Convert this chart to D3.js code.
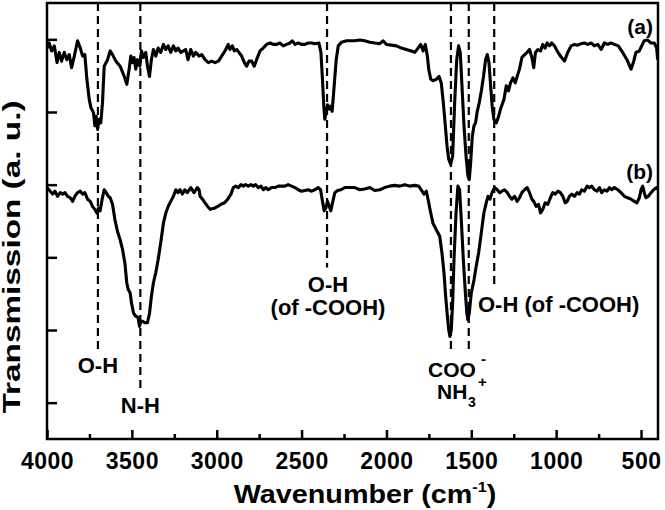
<!DOCTYPE html>
<html>
<head>
<meta charset="utf-8">
<script src="https://cdn.jsdelivr.net/npm/d3@7"></script>
<style>
  body { margin: 0; background: #fff; }
  text { font-family: "Liberation Sans", Arial, sans-serif; font-weight: bold; fill: #000; }
</style>
</head>
<body>
<div id="grafica"></div>
<script>
  // espectro (a): [numero de onda, transmision]
  const serieA = [
    [4000, 4.88], [3987, 4.95], [3973, 4.84], [3957, 4.91], [3941, 4.68], [3928, 4.82], [3914, 4.70], [3898, 4.82],
    [3883, 4.72], [3869, 4.79], [3855, 4.61], [3839, 4.77], [3820, 4.98], [3804, 4.88], [3790, 4.77], [3777, 4.79],
    [3765, 4.45], [3751, 4.17], [3741, 4.06], [3726, 3.99], [3718, 3.81], [3710, 3.94], [3702, 3.76], [3692, 3.90],
    [3683, 3.85], [3673, 4.13], [3663, 4.63], [3643, 4.72], [3628, 4.84], [3614, 4.79], [3594, 4.70], [3569, 4.63],
    [3545, 4.49], [3530, 4.38], [3516, 4.59], [3506, 4.77], [3496, 4.68], [3487, 4.75], [3477, 4.59], [3467, 4.72],
    [3453, 4.63], [3443, 4.84], [3432, 4.75], [3418, 4.82], [3408, 4.63], [3396, 4.49], [3385, 4.72], [3373, 4.86],
    [3359, 4.77], [3345, 4.88], [3330, 4.82], [3314, 4.93], [3300, 4.86], [3286, 4.91], [3271, 4.82], [3255, 4.91],
    [3241, 4.84], [3228, 4.88], [3212, 4.82], [3196, 4.84], [3183, 4.86], [3169, 4.72], [3153, 4.86], [3137, 4.77],
    [3124, 4.82], [3104, 4.77], [3088, 4.79], [3069, 4.72], [3049, 4.68], [3030, 4.70], [3010, 4.68], [2990, 4.70],
    [2971, 4.77], [2951, 4.84], [2932, 4.93], [2922, 4.86], [2908, 4.91], [2896, 4.84], [2882, 4.86], [2869, 4.82],
    [2853, 4.77], [2837, 4.68], [2824, 4.63], [2810, 4.70], [2794, 4.70], [2779, 4.63], [2765, 4.72], [2745, 4.84],
    [2726, 4.88], [2706, 4.93], [2686, 4.95], [2667, 4.93], [2647, 4.93], [2628, 4.95], [2608, 4.91], [2588, 4.93],
    [2569, 4.95], [2555, 4.98], [2539, 4.93], [2520, 4.95], [2500, 4.93], [2480, 4.93], [2461, 4.95], [2441, 4.95],
    [2422, 4.94], [2398, 4.95], [2386, 4.82], [2377, 4.45], [2369, 4.08], [2363, 3.90], [2355, 4.01], [2347, 4.10],
    [2337, 4.04], [2328, 4.08], [2320, 4.01], [2308, 4.36], [2296, 4.72], [2284, 4.91], [2265, 4.96], [2235, 4.98],
    [2210, 4.98], [2186, 4.98], [2157, 4.99], [2128, 4.98], [2098, 4.96], [2069, 4.95], [2039, 4.94], [2020, 4.98],
    [2000, 4.93], [1971, 4.92], [1941, 4.91], [1912, 4.88], [1883, 4.86], [1853, 4.84], [1833, 4.82], [1814, 4.88],
    [1798, 4.93], [1784, 4.84], [1771, 4.93], [1759, 4.77], [1751, 4.59], [1739, 4.45], [1726, 4.43], [1706, 4.45],
    [1690, 4.49], [1677, 4.40], [1665, 4.13], [1653, 3.81], [1643, 3.53], [1633, 3.35], [1622, 3.28], [1610, 3.39],
    [1598, 4.13], [1586, 4.72], [1575, 4.91], [1565, 4.82], [1555, 4.36], [1543, 3.81], [1531, 3.39], [1520, 3.12],
    [1512, 3.07], [1504, 3.30], [1494, 3.67], [1484, 3.81], [1475, 3.85], [1465, 4.01], [1453, 4.13], [1441, 4.29],
    [1428, 4.49], [1416, 4.72], [1406, 4.79], [1396, 4.68], [1386, 4.36], [1377, 4.08], [1367, 3.90], [1353, 3.85],
    [1339, 3.94], [1328, 4.04], [1308, 4.17], [1294, 4.36], [1281, 4.29], [1269, 4.40], [1255, 4.47], [1241, 4.40],
    [1230, 4.49], [1216, 4.59], [1202, 4.75], [1186, 4.79], [1171, 4.82], [1157, 4.86], [1143, 4.75], [1132, 4.61],
    [1122, 4.82], [1108, 4.86], [1092, 4.84], [1079, 4.93], [1065, 4.88], [1053, 4.95], [1039, 4.91], [1026, 4.95],
    [1010, 4.91], [994, 4.84], [975, 4.77], [951, 4.70], [932, 4.82], [912, 4.91], [892, 4.93], [873, 4.92],
    [853, 4.94], [834, 4.95], [814, 4.93], [794, 4.95], [775, 4.91], [755, 4.93], [735, 4.86], [716, 4.95],
    [696, 4.93], [677, 4.95], [657, 4.93], [634, 4.91], [608, 4.82], [583, 4.72], [559, 4.59], [543, 4.70],
    [530, 4.82], [510, 4.84], [496, 4.91], [481, 4.98], [461, 4.99], [441, 4.95], [422, 4.95], [408, 4.88],
    [402, 4.72]
  ];

  // espectro (b)
  const serieB = [
    [4000, 2.96], [3981, 2.91], [3967, 2.87], [3953, 2.91], [3938, 2.84], [3922, 2.89], [3908, 2.87], [3894, 2.89],
    [3879, 2.84], [3863, 2.82], [3849, 2.77], [3836, 2.84], [3820, 2.89], [3804, 2.91], [3790, 2.87], [3777, 2.89],
    [3761, 2.80], [3745, 2.77], [3732, 2.70], [3718, 2.66], [3706, 2.61], [3696, 2.68], [3687, 2.64], [3675, 2.80],
    [3663, 2.93], [3651, 2.89], [3639, 2.84], [3628, 2.82], [3614, 2.73], [3600, 2.52], [3585, 2.36], [3569, 2.24],
    [3555, 2.11], [3541, 1.92], [3530, 1.65], [3522, 1.56], [3510, 1.51], [3502, 1.37], [3490, 1.23], [3477, 1.19],
    [3463, 1.17], [3455, 1.05], [3447, 1.12], [3436, 1.12], [3424, 1.10], [3408, 1.10], [3396, 1.23], [3385, 1.46],
    [3373, 1.65], [3359, 1.79], [3345, 1.97], [3330, 2.20], [3314, 2.47], [3300, 2.61], [3286, 2.70], [3271, 2.77],
    [3255, 2.84], [3241, 2.93], [3228, 2.89], [3216, 2.93], [3202, 2.87], [3188, 2.93], [3173, 2.89], [3153, 2.96],
    [3134, 2.89], [3114, 2.96], [3104, 2.93], [3098, 2.84], [3084, 2.80], [3069, 2.75], [3053, 2.70], [3039, 2.66],
    [3026, 2.67], [3010, 2.68], [2994, 2.70], [2975, 2.73], [2955, 2.75], [2935, 2.80], [2916, 2.87], [2902, 2.96],
    [2888, 2.98], [2873, 2.96], [2857, 3.00], [2843, 2.98], [2830, 3.00], [2814, 2.98], [2798, 3.00], [2784, 2.98],
    [2771, 3.00], [2755, 2.96], [2739, 2.98], [2726, 2.93], [2712, 2.96], [2696, 2.93], [2677, 2.96], [2657, 2.96],
    [2637, 2.98], [2618, 2.98], [2598, 2.98], [2579, 3.00], [2559, 2.98], [2539, 2.96], [2520, 2.93], [2500, 2.91],
    [2480, 2.92], [2461, 2.93], [2441, 2.91], [2422, 2.93], [2402, 2.96], [2388, 2.93], [2379, 2.80], [2367, 2.64],
    [2357, 2.68], [2347, 2.77], [2337, 2.70], [2328, 2.64], [2316, 2.77], [2304, 2.89], [2288, 2.92], [2269, 2.93],
    [2245, 2.96], [2216, 2.96], [2186, 2.96], [2157, 2.93], [2128, 2.94], [2098, 2.96], [2069, 2.92], [2039, 2.93],
    [2010, 2.96], [1981, 2.98], [1951, 2.99], [1922, 2.98], [1892, 3.00], [1863, 2.98], [1833, 2.99], [1810, 2.98],
    [1790, 2.91], [1779, 2.87], [1765, 2.91], [1755, 2.80], [1739, 2.61], [1726, 2.47], [1706, 2.38], [1686, 2.29],
    [1673, 2.06], [1661, 1.79], [1651, 1.46], [1641, 1.19], [1633, 1.00], [1626, 0.91], [1618, 1.00], [1610, 1.37],
    [1602, 1.97], [1590, 2.61], [1579, 2.98], [1569, 2.93], [1559, 2.52], [1547, 1.97], [1535, 1.51], [1526, 1.23],
    [1520, 1.14], [1512, 1.23], [1500, 1.51], [1484, 1.69], [1471, 1.88], [1457, 2.06], [1441, 2.34], [1426, 2.61],
    [1412, 2.75], [1402, 2.84], [1390, 2.80], [1378, 2.89], [1363, 2.96], [1347, 2.93], [1333, 2.89], [1320, 2.91],
    [1304, 2.93], [1288, 2.89], [1275, 2.84], [1261, 2.80], [1245, 2.84], [1230, 2.77], [1216, 2.82], [1202, 2.89],
    [1186, 2.93], [1171, 2.96], [1157, 2.89], [1143, 2.80], [1132, 2.77], [1118, 2.70], [1104, 2.73], [1092, 2.61],
    [1079, 2.66], [1065, 2.75], [1049, 2.73], [1034, 2.82], [1020, 2.89], [1006, 2.87], [990, 2.91], [975, 2.89],
    [961, 2.84], [947, 2.75], [935, 2.77], [922, 2.84], [908, 2.87], [892, 2.84], [877, 2.89], [863, 2.87],
    [849, 2.93], [834, 2.91], [818, 2.98], [804, 2.96], [790, 2.98], [775, 2.93], [759, 2.91], [745, 2.96],
    [732, 2.89], [716, 2.93], [700, 2.91], [686, 2.96], [673, 2.93], [657, 2.96], [637, 2.93], [618, 2.89],
    [598, 2.84], [579, 2.82], [559, 2.80], [539, 2.77], [524, 2.75], [510, 2.82], [500, 2.93], [490, 2.98],
    [481, 2.89], [471, 2.82], [457, 2.84], [441, 2.89], [426, 2.93], [408, 2.96], [400, 2.93]
  ];

  const ticksX = [4000, 3500, 3000, 2500, 2000, 1500, 1000, 500];
  const ticksXmenor = [3750, 3250, 2750, 2250, 1750, 1250, 750];
  const ticksY = [0, 1, 2, 3, 4, 5];

  // lineas discontinuas: posicion del pico y hasta donde baja
  const picos = [3700, 3450, 2350, 1620, 1515, 1365];
  const picosFin = [0.71, 0.14, 1.86, 0.73, 0.70, 1.58];

  const width = 665, height = 510;
  const margin = { top: 3, right: 7, bottom: 71, left: 47 };

  const svg = d3.select("#grafica")
    .append("svg")
    .attr("width", width)
    .attr("height", height);

  const x = d3.scaleLinear().domain([4000, 400]).range([margin.left, width - margin.right]);
  const y = d3.scaleLinear().domain([-0.5, 5.5]).range([height - margin.bottom, margin.top]);

  svg.append("clipPath").attr("id", "recorte")
    .append("rect")
    .attr("x", margin.left).attr("y", margin.top)
    .attr("width", width - margin.left - margin.right)
    .attr("height", height - margin.top - margin.bottom);

  // Lineas discontinuas
  svg.append("g")
    .selectAll("line")
    .data(picos)
    .enter()
    .append("line")
    .attr("x1", d => x(d))
    .attr("x2", d => x(d))
    .attr("y1", margin.top)
    .attr("y2", (d, i) => y(picosFin[i]))
    .attr("stroke", "#000")
    .attr("stroke-width", 2.2)
    .attr("stroke-dasharray", "8,5");

  // Espectros
  const linea = d3.line().x(d => x(d[0])).y(d => y(d[1]));
  svg.append("g")
    .attr("clip-path", "url(#recorte)")
    .selectAll("path")
    .data([serieA, serieB])
    .enter()
    .append("path")
    .attr("d", linea)
    .attr("fill", "none")
    .attr("stroke", "#000")
    .attr("stroke-width", 3.1)
    .attr("stroke-linejoin", "round");

  // Ejes
  const ejeX = svg.append("g")
    .attr("transform", `translate(0,${height - margin.bottom})`)
    .call(d3.axisBottom(x).tickValues(ticksX).tickSize(-9).tickPadding(14).tickFormat(d3.format("d")));
  ejeX.select(".domain").remove();
  ejeX.selectAll(".tick line").attr("stroke-width", 2.5);
  ejeX.selectAll("text").style("font-size", "23px").style("letter-spacing", "0.5px");

  const ejeXmenor = svg.append("g")
    .attr("transform", `translate(0,${height - margin.bottom})`)
    .call(d3.axisBottom(x).tickValues(ticksXmenor).tickSize(-5).tickFormat(""));
  ejeXmenor.select(".domain").remove();
  ejeXmenor.selectAll(".tick line").attr("stroke-width", 2.5);

  const ejeY = svg.append("g")
    .attr("transform", `translate(${margin.left},0)`)
    .call(d3.axisLeft(y).tickValues(ticksY).tickSize(-10).tickFormat(""));
  ejeY.select(".domain").remove();
  ejeY.selectAll(".tick line").attr("stroke-width", 2.5);

  // Marco
  svg.append("rect")
    .attr("x", margin.left)
    .attr("y", margin.top)
    .attr("width", width - margin.left - margin.right)
    .attr("height", height - margin.top - margin.bottom)
    .attr("fill", "none")
    .attr("stroke", "#000")
    .attr("stroke-width", 2.5);

  // Titulos
  const tituloX = svg.append("text")
    .attr("text-anchor", "middle")
    .attr("transform", "translate(365,503) scale(1.15,1)")
    .style("font-size", "25px");
  tituloX.append("tspan").text("Wavenumber (cm");
  tituloX.append("tspan").attr("dy", -11).style("font-size", "14px").text("-1");
  tituloX.append("tspan").attr("dy", 11).text(")");

  svg.append("text")
    .attr("text-anchor", "middle")
    .attr("transform", "translate(20,257) rotate(-90)")
    .attr("textLength", 313)
    .attr("lengthAdjust", "spacingAndGlyphs")
    .style("font-size", "23px")
    .text("Transmission (a. u.)");

  // Etiquetas (a) (b)
  svg.append("text").attr("x", 653).attr("y", 34).attr("text-anchor", "end")
    .style("font-size", "21px").text("(a)");
  svg.append("text").attr("x", 653).attr("y", 179).attr("text-anchor", "end")
    .style("font-size", "21px").text("(b)");

  // Etiquetas de picos
  const fs = "22px";
  svg.append("text").attr("x", x(3700)).attr("y", 373).attr("text-anchor", "middle").style("font-size", fs).text("O-H");
  svg.append("text").attr("x", x(3450)).attr("y", 413).attr("text-anchor", "middle").style("font-size", fs).text("N-H");
  svg.append("text").attr("x", 328).attr("y", 292).attr("text-anchor", "middle").style("font-size", fs).text("O-H");
  svg.append("text").attr("x", 328).attr("y", 315).attr("text-anchor", "middle").style("font-size", fs).text("(of -COOH)");
  svg.append("text").attr("x", 478).attr("y", 312).style("font-size", fs).text("O-H (of -COOH)");

  // COO- y NH3+ (indices como textos aparte)
  svg.append("text").attr("x", 428).attr("y", 377).style("font-size", "21px").text("COO");
  svg.append("text").attr("x", 481).attr("y", 364).style("font-size", "15px").text("-");
  svg.append("text").attr("x", 437).attr("y", 399).style("font-size", "21px").text("NH");
  svg.append("text").attr("x", 468).attr("y", 407).style("font-size", "14px").text("3");
  svg.append("text").attr("x", 478).attr("y", 387).style("font-size", "15px").text("+");
</script>
</body>
</html>
